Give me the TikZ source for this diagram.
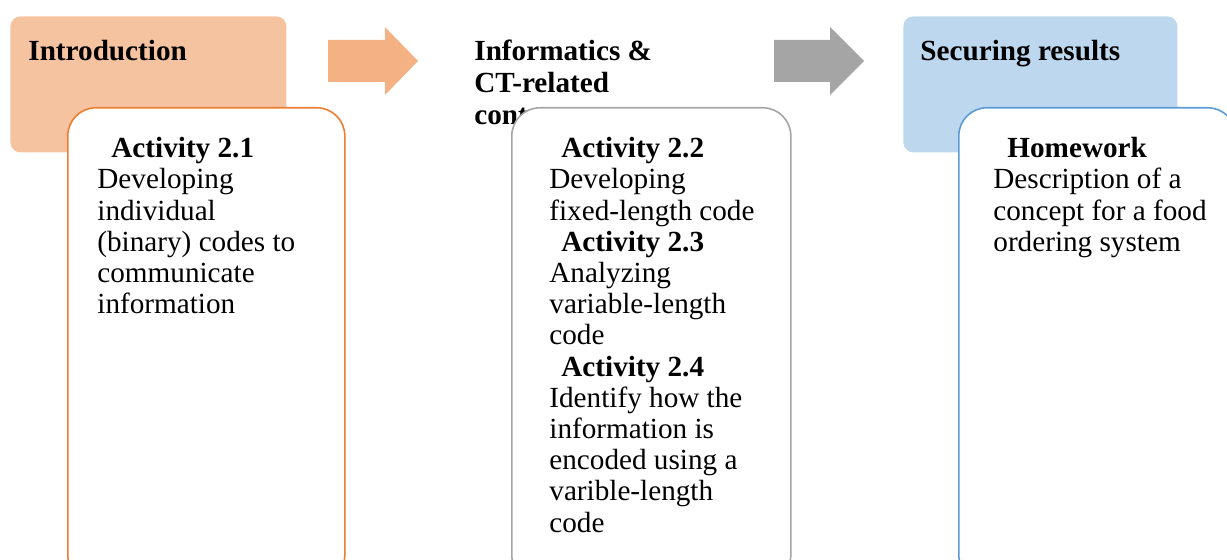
\documentclass[tikz,border=0pt]{standalone}
\usepackage{fontspec}
\setmainfont{Liberation Serif}
\usetikzlibrary{positioning}

\definecolor{introfill}{HTML}{F5C3A0}
\definecolor{introarrow}{HTML}{F4B183}
\definecolor{introline}{HTML}{ED7D31}
\definecolor{midgray}{HTML}{A5A5A5}
\definecolor{resfill}{HTML}{BDD7EE}
\definecolor{resline}{HTML}{5B9BD5}

\begin{document}
\begin{tikzpicture}[
  x=0.5pt, y=-0.5pt,
  stage/.style={anchor=north west, rounded corners=5pt, minimum width=138pt, minimum height=68pt, inner sep=0pt},
  card/.style={draw, line width=0.8pt, fill=white, rounded corners=14pt, anchor=north west, minimum width=138.5pt, minimum height=237.5pt, inner sep=0pt},
  ttl/.style={anchor=north west, align=left, inner sep=0pt, font=\bfseries\fontsize{14.6}{15.8}\selectfont},
  body/.style={anchor=north west, align=left, inner sep=0pt, font=\fontsize{14.6}{15.6}\selectfont},
]
  \useasboundingbox (0,0) rectangle (1227,560);

  % Stage headers
  \node[stage, fill=introfill] (intro) at (10,16) {};
  \node[ttl] (introt) at (28,40) {Introduction};
  \node[ttl] (infot) at (474,40) {Informatics \&\\CT-related\\content};
  \node[stage, fill=resfill, minimum width=137pt] (res) at (903,16) {};
  \node[ttl] (rest) at (920,40) {Securing results};

  % Block arrows
  \fill[introarrow] (328,40) -- (385,40) -- (385,27) -- (418,61) -- (385,95) -- (385,82) -- (328,82) -- cycle;
  \fill[midgray] (774,40) -- (830,40) -- (830,27) -- (864,61) -- (830,95) -- (830,82) -- (774,82) -- cycle;

  % Activity cards
  \node[card, draw=introline] (c1) at (67,107) {};
  \node[card, draw=midgray, minimum width=139.5pt] (c2) at (511,107) {};
  \node[card, draw=resline] (c3) at (958,107) {};

  \node[body] (c1t) at (97,137) {\hspace{7pt}\textbf{Activity 2.1}\\Developing\\individual\\(binary) codes to\\communicate\\information};
  \node[body] (c2t) at (549,137) {\hspace{6pt}\textbf{Activity 2.2}\\Developing\\fixed-length code\\\hspace{6pt}\textbf{Activity 2.3}\\Analyzing\\variable-length\\code\\\hspace{6pt}\textbf{Activity 2.4}\\Identify how the\\information is\\encoded using a\\varible-length\\code};
  \node[body] (c3t) at (993,137) {\hspace{7pt}\textbf{Homework}\\Description of a\\concept for a food\\ordering system};
\end{tikzpicture}
\end{document}
